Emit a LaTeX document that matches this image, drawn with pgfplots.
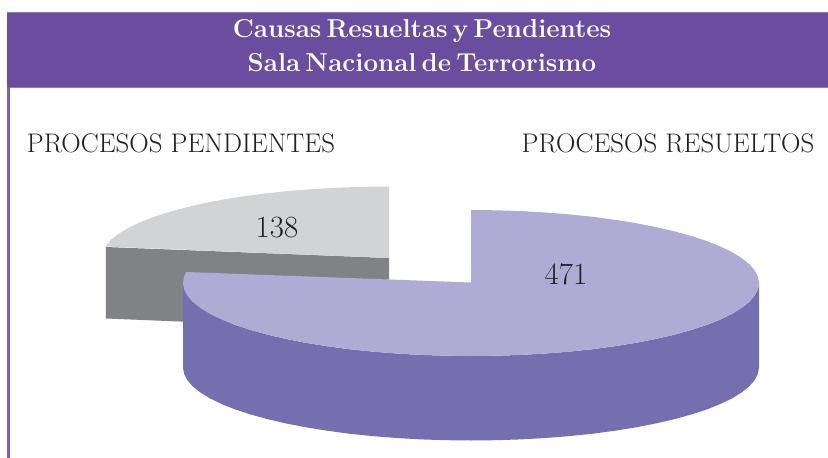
\documentclass[border=0pt]{standalone}
\usepackage{pgfplots}
\pgfplotsset{compat=1.18}
\definecolor{hdr}{HTML}{6B4DA0}
\definecolor{hdredge}{HTML}{8F7ABC}
\definecolor{lft}{HTML}{7A5FB6}
\definecolor{ptop}{HTML}{B0ABD5}
\definecolor{pside}{HTML}{756FB0}
\definecolor{gtop}{HTML}{D1D3D4}
\definecolor{gside}{HTML}{808285}
\definecolor{ink}{HTML}{231F20}
\begin{document}
\begin{tikzpicture}
\begin{axis}[hide axis,scale only axis,width=828bp,height=458bp,
  xmin=0,xmax=828,ymin=0,ymax=458,y dir=reverse,clip=false,
  every axis plot/.append style={draw=none,line width=0pt}]
% page background
\addplot[fill=white] coordinates {(0,0)(828,0)(828,458)(0,458)};
% header and left rule
\addplot[fill=hdr] coordinates {(6.5,12.5)(828,12.5)(828,87.5)(6.5,87.5)};
\addplot[fill=hdredge] coordinates {(6.5,12.2)(828,12.2)(828,13)(6.5,13)};
\addplot[fill=hdredge] coordinates {(6.5,87)(828,87)(828,88)(6.5,88)};
\addplot[fill=lft] coordinates {(7.3,87)(9.8,87)(9.8,458)(7.3,458)};
% 138: side
\addplot[fill=gside] coordinates {(105.8,247)(389,258)(389,330)(105.8,318.5)};
% 138: top
\addplot[fill=gtop] coordinates {(389,186.5)(363.9,186.8)(339,187.6)(314.5,189)(290.5,190.8)(267.3,193.2)(245,196.1)(223.8,199.5)(203.9,203.3)(185.4,207.6)(168.4,212.2)(153.1,217.2)(139.6,222.5)(128,228.1)(118.4,233.9)(110.8,239.9)(105.4,246.5)(389,258)};
% 471: side
\addplot[fill=pside] coordinates {(759,283)(757.9,289.4)(754.6,295.7)(749.2,301.9)(741.6,308)(732,313.9)(720.4,319.5)(706.9,324.9)(691.6,329.9)(674.6,334.6)(656.1,338.9)(636.2,342.8)(615,346.2)(592.7,349.2)(569.5,351.6)(545.5,353.5)(521,354.9)(496.1,355.7)(471,356)(445.9,355.7)(421,354.9)(396.5,353.5)(372.5,351.6)(349.3,349.2)(327,346.2)(305.8,342.8)(285.9,338.9)(267.4,334.6)(250.4,329.9)(235.1,324.9)(221.6,319.5)(210,313.9)(200.4,308)(192.8,301.9)(187.4,295.7)(184.1,289.4)(183,283)
(183,367.5)(184.1,373.9)(187.4,380.2)(192.8,386.4)(200.4,392.5)(210,398.4)(221.6,404)(235.1,409.4)(250.4,414.4)(267.4,419.1)(285.9,423.4)(305.8,427.3)(327,430.7)(349.3,433.7)(372.5,436.1)(396.5,438)(421,439.4)(445.9,440.2)(471,440.5)(496.1,440.2)(521,439.4)(545.5,438)(569.5,436.1)(592.7,433.7)(615,430.7)(636.2,427.3)(656.1,423.4)(674.6,419.1)(691.6,414.4)(706.9,409.4)(720.4,404)(732,398.4)(741.6,392.5)(749.2,386.4)(754.6,380.2)(757.9,373.9)(759,367.5)};
% 471: top
\addplot[fill=ptop] coordinates {(471,210)(496.1,210.3)(521,211.1)(545.5,212.5)(569.5,214.4)(592.7,216.8)(615,219.8)(636.2,223.2)(656.1,227.1)(674.6,231.4)(691.6,236.1)(706.9,241.1)(720.4,246.5)(732,252.1)(741.6,258)(749.2,264.1)(754.6,270.3)(757.9,276.6)(759,283)(757.9,289.4)(754.6,295.7)(749.2,301.9)(741.6,308)(732,313.9)(720.4,319.5)(706.9,324.9)(691.6,329.9)(674.6,334.6)(656.1,338.9)(636.2,342.8)(615,346.2)(592.7,349.2)(569.5,351.6)(545.5,353.5)(521,354.9)(496.1,355.7)(471,356)(445.9,355.7)(421,354.9)(396.5,353.5)(372.5,351.6)(349.3,349.2)(327,346.2)(305.8,342.8)(285.9,338.9)(267.4,334.6)(250.4,329.9)(235.1,324.9)(221.6,319.5)(210,313.9)(200.4,308)(192.8,301.9)(187.4,295.7)(184.1,289.4)(183,283)(184.1,276.6)(186.3,272)(471,282.5)};
% texts
\node[text=white,font=\fontsize{26}{26}\selectfont\bfseries] at (axis cs:422,31) {\spaceskip 0.2em\relax Causas Resueltas y Pendientes};
\node[text=white,font=\fontsize{26}{26}\selectfont\bfseries] at (axis cs:422,63) {\spaceskip 0.2em\relax Sala Nacional de Terrorismo};
\node[text=ink,font=\fontsize{27}{27}\selectfont] at (axis cs:181,143) {PROCESOS PENDIENTES};
\node[text=ink,font=\fontsize{27}{27}\selectfont] at (axis cs:668,143) {PROCESOS RESUELTOS};
\node[text=ink,font=\fontsize{31}{31}\selectfont] at (axis cs:277,228) {138};
\node[text=ink,font=\fontsize{31}{31}\selectfont] at (axis cs:566,274) {471};
\end{axis}
\end{tikzpicture}
\end{document}
